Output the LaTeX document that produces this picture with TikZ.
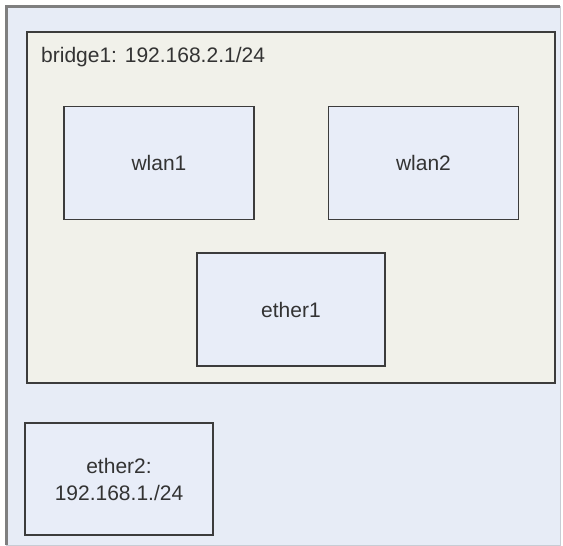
\documentclass[tikz,border=0pt]{standalone}
\usepackage{fontspec}
\setmainfont{Liberation Sans}
\begin{document}
\begin{tikzpicture}[x=1pt,y=-1pt,
  framefill/.style={fill=outerbg},
  zone/.style={draw=boxline,line width=1.6pt,fill=bridgebg},
  iface/.style={draw=boxline,line width=1.6pt,fill=ifacebg},
  label/.style={font=\fontsize{21}{27}\selectfont,text=labeltext,align=center}]
\definecolor{outerbg}{HTML}{E7ECF6}
\definecolor{bridgebg}{HTML}{F1F1EA}
\definecolor{ifacebg}{HTML}{E8EDF8}
\definecolor{boxline}{HTML}{3C3C3C}
\definecolor{labeltext}{HTML}{333333}
\definecolor{frametop}{HTML}{7F7F7F}
\definecolor{framebot}{HTML}{C8CCD4}
% page
\fill[white] (0,0) rectangle (563,546);
\useasboundingbox (0,0) rectangle (563,546);
% sunken outer frame
\fill[framefill] (6,6) rectangle (560,545);
\draw[framebot,line width=1pt] (6,545) -- (560,545) -- (560,6);
\draw[frametop,line width=3pt] (6.5,545) -- (6.5,6.5) -- (560,6.5);
% bridge zone
\draw[zone] (27,32) rectangle (555,383);
\node[label,anchor=base west,inner sep=0pt] (bridge) at (41,62) {bridge1: 192.168.2.1/24};
% interfaces
\node[iface,label,minimum width=190pt,minimum height=113pt,inner sep=0pt] (wlan1) at (159,163) {wlan1};
\node[iface,label,minimum width=190pt,minimum height=113pt,inner sep=0pt] (wlan2) at (423.5,163) {wlan2};
\node[iface,label,minimum width=188pt,minimum height=113pt,inner sep=0pt] (ether1) at (291,309.5) {ether1};
\node[iface,label,minimum width=188pt,minimum height=112pt,inner sep=0pt] (ether2) at (119,479) {ether2:\\192.168.1./24};
\end{tikzpicture}
\end{document}
